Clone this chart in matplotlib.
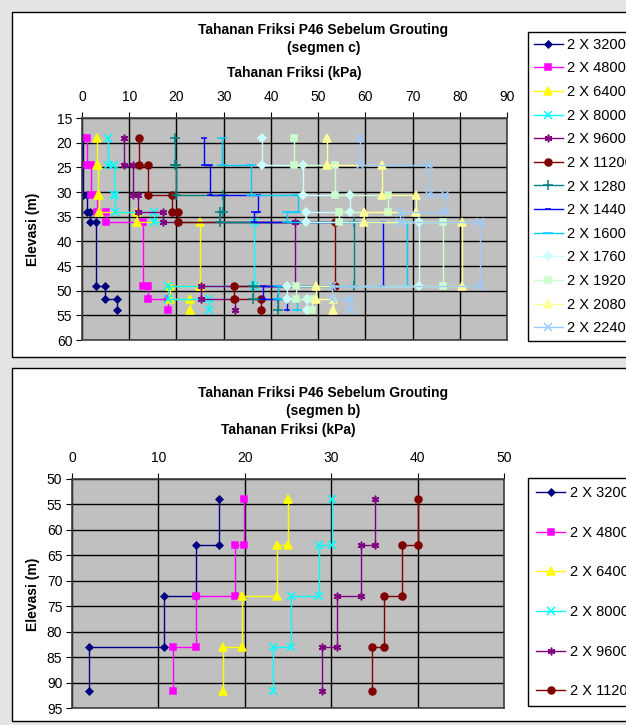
import matplotlib
matplotlib.use("Agg")
import matplotlib.pyplot as plt
from matplotlib.patches import Rectangle

plt.rcParams["font.family"] = ["Liberation Sans", "DejaVu Sans"]

W, H = 626, 725

# --- segmen c: elevations (m) where the friction value changes
depth_c = [19.0, 24.5, 30.6, 34.0, 36.1, 49.0, 51.7, 54.0]
# friction (kPa) of each layer between consecutive elevations
fr_c_3200 = [0.3, 0.3, 1.0, 1.7, 3.0, 4.9, 7.5]
fr_c_4800 = [1.1, 2.0, 3.2, 5.1, 13.0, 14.0, 18.3]
fr_c_6400 = [3.1, 3.4, 3.7, 11.6, 25.0, 18.6, 22.9]
fr_c_8000 = [5.4, 6.7, 7.0, 15.2, 36.4, 18.3, 26.9]
fr_c_9600 = [8.8, 10.7, 11.9, 17.2, 45.1, 25.2, 32.4]
fr_c_11200 = [12.1, 13.9, 19.0, 20.4, 53.5, 32.1, 37.9]
fr_c_12800 = [19.6, 19.9, 29.9, 29.3, 57.6, 36.2, 41.6]
fr_c_14400 = [25.8, 27.0, 37.3, 36.4, 63.7, 38.4, 43.4]
fr_c_16000 = [29.6, 35.7, 45.8, 43.4, 68.8, 41.4, 45.5]
fr_c_17600 = [38.1, 46.8, 56.8, 47.5, 71.3, 43.5, 47.6]
fr_c_19200 = [44.8, 53.6, 64.7, 54.5, 76.4, 45.3, 48.7]
fr_c_20800 = [51.8, 63.5, 70.7, 59.8, 80.5, 49.5, 53.2]
fr_c_22400 = [58.9, 73.4, 76.8, 67.3, 84.3, 52.9, 56.8]
labels_c = ["2 X 3200", "2 X 4800", "2 X 6400", "2 X 8000", "2 X 9600",
            "2 X 11200", "2 X 12800", "2 X 14400", "2 X 16000", "2 X 17600",
            "2 X 19200", "2 X 20800", "2 X 22400"]
series_c = [fr_c_3200, fr_c_4800, fr_c_6400, fr_c_8000, fr_c_9600, fr_c_11200,
            fr_c_12800, fr_c_14400, fr_c_16000, fr_c_17600, fr_c_19200,
            fr_c_20800, fr_c_22400]

# --- segmen b
depth_b = [54.0, 63.0, 73.0, 83.0, 91.6]
fr_b_3200 = [17.0, 14.4, 10.6, 2.0]
fr_b_4800 = [19.9, 18.9, 14.3, 11.7]
fr_b_6400 = [25.0, 23.7, 19.7, 17.5]
fr_b_8000 = [30.1, 28.6, 25.3, 23.3]
fr_b_9600 = [35.1, 33.4, 30.7, 28.9]
fr_b_11200 = [40.1, 38.2, 36.1, 34.7]
labels_b = labels_c[:6]
series_b = [fr_b_3200, fr_b_4800, fr_b_6400, fr_b_8000, fr_b_9600, fr_b_11200]

# excel-like series styles
colors = ["#000080", "#FF00FF", "#FFFF00", "#00FFFF", "#800080", "#800000",
          "#008080", "#0000FF", "#00CCFF", "#CCFFFF", "#CCFFCC", "#FFFF99",
          "#99CCFF"]
markers = ["D", "s", "^", "x", (6, 2, 0), "o", "+", "_", "_", "D", "s", "^", "x"]
msizes = [3.5, 5, 5.5, 5.5, 5.5, 5, 7, 5, 7, 4, 5, 5.5, 5.5]


def steps(xs, depths):
    px, py = [], []
    for k, x in enumerate(xs):
        px += [x, x]
        py += [depths[k], depths[k + 1]]
    return px, py


def px_axes(fig, left, top, right, bottom):
    return fig.add_axes([left / W, 1 - bottom / H, (right - left) / W, (bottom - top) / H])


def style_axes(ax, xmax, ymin, ymax):
    ax.set_facecolor("#C0C0C0")
    ax.set_xlim(0, xmax)
    ax.set_ylim(ymax, ymin)
    ax.xaxis.tick_top()
    ax.set_xticks(range(0, xmax + 1, 10))
    ax.set_yticks(range(ymin, ymax + 1, 5))
    ax.grid(True, color="black", lw=1.0)
    ax.set_axisbelow(True)
    ax.tick_params(direction="out", length=4, labelsize=10, pad=3)
    ax.tick_params(axis="x", pad=6)
    for sp in ax.spines.values():
        sp.set_color("#404040")
        sp.set_linewidth(1.2)


def panel_box(fig, top, bottom):
    fig.add_artist(Rectangle((12 / W, 1 - bottom / H), (660 - 12) / W, (bottom - top) / H,
                             transform=fig.transFigure, facecolor="white",
                             edgecolor="black", lw=1.0, zorder=-5))


fig = plt.figure(figsize=(W / 100, H / 100), dpi=100)
fig.patch.set_facecolor("#E4E4E4")

panel_box(fig, 12, 357)
panel_box(fig, 368, 721)

# top chart: segmen c
ax1 = px_axes(fig, 82, 118, 507, 340)
style_axes(ax1, 90, 15, 60)
for xs, lab, c, m, ms in zip(series_c, labels_c, colors, markers, msizes):
    x, y = steps(xs, depth_c)
    ax1.plot(x, y, color=c, lw=1.0, marker=m, ms=ms, mew=1.1, label=lab)
ax1.legend(loc="upper left", bbox_to_anchor=(528 / W, 1 - 32 / H),
           bbox_transform=fig.transFigure, fontsize=10.5, labelspacing=0.66,
           handlelength=2.0, handletextpad=0.3, borderpad=0.4, borderaxespad=0,
           frameon=True, fancybox=False, edgecolor="black", framealpha=1)

fig.text(323 / W, 1 - 30 / H, "Tahanan Friksi P46 Sebelum Grouting", ha="center",
         va="center", fontsize=10, fontweight="bold")
fig.text(324 / W, 1 - 48 / H, "(segmen c)", ha="center", va="center",
         fontsize=10, fontweight="bold")
fig.text(294 / W, 1 - 73 / H, "Tahanan Friksi (kPa)", ha="center", va="center",
         fontsize=10, fontweight="bold")
fig.text(33 / W, 1 - 229 / H, "Elevasi (m)", ha="center", va="center",
         rotation=90, fontsize=10, fontweight="bold")

# bottom chart: segmen b
ax2 = px_axes(fig, 72, 479, 504, 708)
style_axes(ax2, 50, 50, 95)
for xs, lab, c, m, ms in zip(series_b, labels_b, colors, markers, msizes):
    x, y = steps(xs, depth_b)
    ax2.plot(x, y, color=c, lw=1.0, marker=m, ms=ms, mew=1.1, label=lab)
ax2.legend(loc="upper left", bbox_to_anchor=(528 / W, 1 - 478 / H),
           bbox_transform=fig.transFigure, fontsize=10.5, labelspacing=1.76,
           handlelength=2.0, handletextpad=0.3, borderpad=0.55, borderaxespad=0,
           frameon=True, fancybox=False, edgecolor="black", framealpha=1)

fig.text(323 / W, 1 - 393 / H, "Tahanan Friksi P46 Sebelum Grouting", ha="center",
         va="center", fontsize=10, fontweight="bold")
fig.text(323 / W, 1 - 411 / H, "(segmen b)", ha="center", va="center",
         fontsize=10, fontweight="bold")
fig.text(288 / W, 1 - 430 / H, "Tahanan Friksi (kPa)", ha="center", va="center",
         fontsize=10, fontweight="bold")
fig.text(33 / W, 1 - 594 / H, "Elevasi (m)", ha="center", va="center",
         rotation=90, fontsize=10, fontweight="bold")

fig.savefig("out.png", dpi=100, facecolor=fig.get_facecolor())
